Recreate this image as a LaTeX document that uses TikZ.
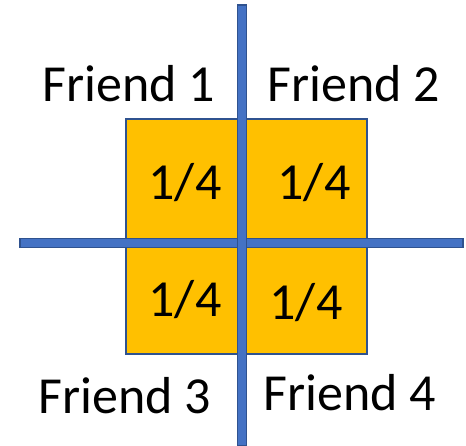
\documentclass[tikz,border=0pt]{standalone}
\usepackage{fontspec}
\setmainfont{Carlito}
\usepackage{xcolor}
\definecolor{share}{HTML}{FFC000}
\definecolor{axisblue}{HTML}{4472C4}
\definecolor{edgeblue}{HTML}{2F528F}
\usetikzlibrary{positioning}

\begin{document}
\begin{tikzpicture}[x=1pt, y=-1pt,
    part/.style={fill=share, draw=edgeblue, line width=1.2pt},
    bar/.style={fill=axisblue, draw=edgeblue, line width=1.5pt},
    lbl/.style={inner sep=0pt, anchor=base, font=\fontsize{52}{62}\selectfont}]
\useasboundingbox (0,0) rectangle (466,446);
% four equal shares
\draw[part] (126,119) rectangle (242,243);
\draw[part] (242,119) rectangle (367,243);
\draw[part] (126,243) rectangle (242,354);
\draw[part] (242,243) rectangle (367,354);
% cutting lines
\draw[bar] (20,238.5) rectangle (463,247.5);
\draw[bar] (237.5,5) rectangle (246.5,446);
% shares
\foreach \x/\y/\name in {185/200/q1, 314/200/q2, 185/317/q3, 306/320/q4}{
    \node[lbl] (\name) at (\x,\y) {1/4};
}
% friends
\foreach \x/\y/\num in {129/102/1, 354/102/2, 125/413/3, 350/410/4}{
    \node[lbl] (friend\num) at (\x,\y) {Friend \num};
}
\end{tikzpicture}
\end{document}
